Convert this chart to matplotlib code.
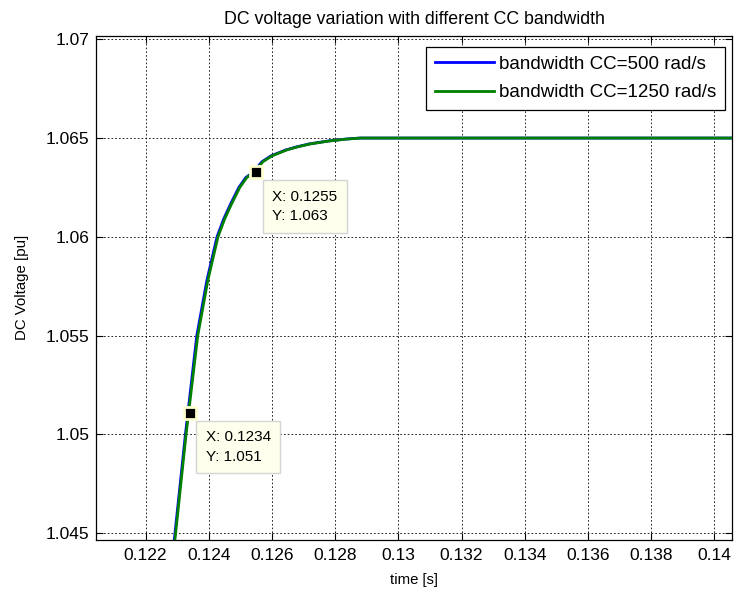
import matplotlib
matplotlib.use("Agg")
import matplotlib.pyplot as plt

plt.rcParams['font.family'] = ['Liberation Sans', 'DejaVu Sans']

# Data
t_green = [0.12293, 0.12328, 0.12365, 0.12397, 0.12429, 0.12450, 0.12473, 0.12498,
           0.12520, 0.12543, 0.12571, 0.12600, 0.12647, 0.12680, 0.12720, 0.12780,
           0.12837, 0.12880, 0.14100]
v_green = [1.0447, 1.0500, 1.0550, 1.0578, 1.0600, 1.0609, 1.0617, 1.0625,
           1.0630, 1.06326, 1.0638, 1.0641, 1.0644, 1.06455, 1.0647, 1.06485,
           1.06495, 1.0650, 1.0650]
t_blue = [0.12291, 0.12326, 0.12362, 0.12394, 0.12426, 0.12447, 0.12470, 0.12495,
          0.12517, 0.12540, 0.12568, 0.12597, 0.12644, 0.12677, 0.12717, 0.12777,
          0.12834, 0.12878, 0.14100]
v_blue = v_green

tips_x = [0.1255, 0.1234]
tips_y = [1.06326, 1.0511]
tips_label = ["X: 0.1255\nY: 1.063", "X: 0.1234\nY: 1.051"]

xticks = [0.122, 0.124, 0.126, 0.128, 0.13, 0.132, 0.134, 0.136, 0.138, 0.14]
xticklabels = ["0.122", "0.124", "0.126", "0.128", "0.13", "0.132", "0.134", "0.136", "0.138", "0.14"]
yticks = [1.045, 1.05, 1.055, 1.06, 1.065, 1.07]
yticklabels = ["1.045", "1.05", "1.055", "1.06", "1.065", "1.07"]

fig = plt.figure(figsize=(7.34, 5.91), dpi=100)
ax = fig.add_axes([96/734, 1-540/591, (732-96)/734, (540-35.5)/591])

ax.plot(t_blue, v_blue, color='#0000ff', lw=2.0, label='bandwidth CC=500 rad/s', zorder=3)
ax.plot(t_green, v_green, color='#008000', lw=2.0, label='bandwidth CC=1250 rad/s', zorder=4)

ax.set_xlim(0.12043, 0.14056)
ax.set_ylim(1.04466, 1.07019)
ax.set_xticks(xticks)
ax.set_xticklabels(xticklabels)
ax.set_yticks(yticks)
ax.set_yticklabels(yticklabels)
ax.tick_params(direction='in', top=True, right=True, length=5, width=0.8,
               labelsize=12.5)
ax.tick_params(axis='x', pad=6)
ax.tick_params(axis='y', pad=4.5)
ax.grid(True, color='black', linestyle=(0, (2, 2.5)), linewidth=0.6)
for s in ax.spines.values():
    s.set_linewidth(0.9)

ax.set_title('DC voltage variation with different CC bandwidth', fontsize=12.8, pad=8)
ax.set_xlabel('time [s]', fontsize=10.7, labelpad=7)
ax.set_ylabel('DC Voltage [pu]', fontsize=10.8, labelpad=12)

leg = ax.legend(loc='upper right', bbox_to_anchor=(0.989, 0.9766), fontsize=13.5,
                frameon=True, fancybox=False, edgecolor='black', framealpha=1,
                borderaxespad=0, handlelength=3.15, handletextpad=0.3,
                borderpad=0.45, labelspacing=0.6)
leg.get_frame().set_linewidth(0.9)

for x, y, lab in zip(tips_x, tips_y, tips_label):
    ax.plot([x], [y], marker='s', markersize=9, color='black',
            markeredgecolor='#ffffd0', markeredgewidth=2, zorder=6, linestyle='none')
    ax.annotate(lab, xy=(x, y), xytext=(11.5, -12.5), textcoords='offset points',
                ha='left', va='top', fontsize=11, zorder=7, linespacing=1.5,
                bbox=dict(boxstyle='square,pad=0.62', fc='#ffffee', ec='#d4d4d4', lw=1))

fig.savefig('out.png', dpi=100)
